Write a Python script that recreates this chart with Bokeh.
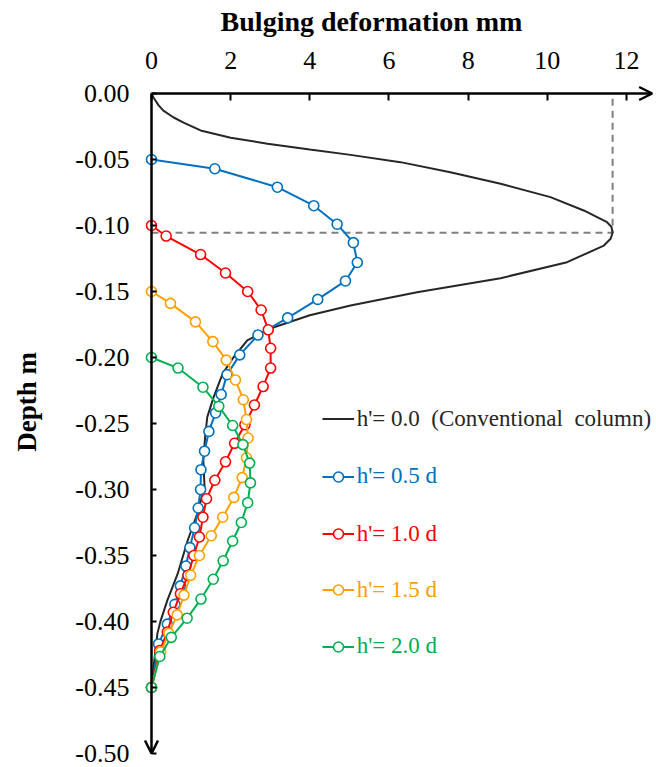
import math
from bokeh.plotting import figure
from bokeh.models import (Range1d, FixedTicker, PrintfTickFormatter, Arrow, OpenHead,
                          Label, Legend, LegendItem)
from bokeh.embed import file_html
from bokeh.resources import INLINE

# ---------------- data ----------------
conv_x = [0.0, 0.05, 0.18, 0.30, 0.55, 0.81, 1.24, 2.0, 2.93, 4.0, 5.03, 6.29, 7.55, 8.82,
          10.08, 10.92, 11.51, 11.62, 11.65, 11.60, 11.43, 10.50, 8.82, 6.71, 5.03, 4.0,
          3.0, 2.42, 2.07, 1.80, 1.57, 1.41, 1.36, 1.31, 1.34, 1.16, 0.91, 0.66, 0.40,
          0.23, 0.15, 0.05, 0.0]
conv_d = [0.0, -0.003, -0.009, -0.013, -0.018, -0.022, -0.028, -0.0335, -0.038, -0.0425,
          -0.0465, -0.052, -0.0596, -0.0684, -0.0785, -0.0886, -0.0975, -0.101, -0.1055,
          -0.110, -0.1152, -0.1278, -0.1399, -0.1505, -0.1606, -0.168, -0.178, -0.187,
          -0.200, -0.212, -0.230, -0.245, -0.258, -0.278, -0.298, -0.318, -0.339, -0.364,
          -0.384, -0.3995, -0.409, -0.435, -0.45]

h05_x = [0.0, 1.60, 3.18, 4.10, 4.69, 5.10, 5.20, 4.90, 4.20, 3.44, 2.69, 2.23, 1.91, 1.76,
         1.62, 1.45, 1.34, 1.25, 1.24, 1.18, 1.09, 0.97, 0.87, 0.73, 0.59, 0.40, 0.18, 0.0]
h05_d = [-0.050, -0.057, -0.071, -0.085, -0.099, -0.113, -0.128, -0.142, -0.156, -0.170,
         -0.183, -0.198, -0.213, -0.228, -0.242, -0.256, -0.271, -0.285, -0.300, -0.314,
         -0.329, -0.344, -0.358, -0.373, -0.387, -0.402, -0.417, -0.45]

h10_x = [0.0, 0.37, 1.24, 1.87, 2.43, 2.77, 2.95, 3.01, 3.01, 2.82, 2.60, 2.36, 2.10, 1.87,
         1.60, 1.39, 1.30, 1.21, 1.07, 0.92, 0.73, 0.55, 0.40, 0.21, 0.0]
h10_d = [-0.100, -0.108, -0.122, -0.136, -0.150, -0.164, -0.179, -0.193, -0.208, -0.222,
         -0.236, -0.251, -0.265, -0.279, -0.293, -0.307, -0.321, -0.336, -0.350, -0.365,
         -0.379, -0.393, -0.408, -0.422, -0.45]

h15_x = [0.0, 0.48, 1.11, 1.55, 1.89, 2.12, 2.32, 2.40, 2.44, 2.40, 2.29, 2.08, 1.80, 1.51,
         1.21, 0.99, 0.82, 0.65, 0.44, 0.23, 0.0]
h15_d = [-0.150, -0.159, -0.173, -0.188, -0.202, -0.217, -0.232, -0.247, -0.261, -0.276,
         -0.291, -0.306, -0.321, -0.335, -0.350, -0.365, -0.380, -0.395, -0.409, -0.423, -0.45]

h20_x = [0.0, 0.67, 1.30, 1.70, 2.05, 2.31, 2.48, 2.50, 2.43, 2.27, 2.05, 1.81, 1.56, 1.25,
         0.90, 0.50, 0.21, 0.0]
h20_d = [-0.200, -0.208, -0.2225, -0.237, -0.2515, -0.266, -0.280, -0.295, -0.310, -0.325,
         -0.339, -0.354, -0.368, -0.383, -0.3975, -0.412, -0.4265, -0.45]

x_ticks = [0, 2, 4, 6, 8, 10, 12]
y_ticks = [0.0, -0.05, -0.10, -0.15, -0.20, -0.25, -0.30, -0.35, -0.40, -0.45, -0.50]

labels = ["h'= 0.0  (Conventional  column)", "h'= 0.5 d", "h'= 1.0 d", "h'= 1.5 d", "h'= 2.0 d"]
colors = ["#262626", "#0070C0", "#FF0000", "#FFA000", "#00B050"]

X_AXIS_END = 12.65
Y_AXIS_END = -0.50

SERIF = "Liberation Serif"

# ---------------- figure ----------------
W, H = 656, 767
X0_PX, Y0_PX = 151.0, 93.0          # where the data origin sits on the canvas
KX, KY = 39.58, 1320.0              # px per data unit
p = figure(width=W, height=H, output_backend="svg", toolbar_location=None, title=None,
           x_range=Range1d(-X0_PX / KX, (W - X0_PX) / KX),
           y_range=Range1d(-(H - Y0_PX) / KY, Y0_PX / KY),
           x_axis_location="above", y_axis_location="left",
           min_border_left=0, min_border_right=0, min_border_top=0, min_border_bottom=0)
p.grid.visible = False
p.outline_line_color = None
p.background_fill_color = "white"
p.border_fill_color = "white"

xa = p.xaxis[0]
xa.fixed_location = 0
xa.ticker = FixedTicker(ticks=x_ticks)
xa.axis_line_color = None
xa.major_tick_in = 7
xa.major_tick_out = 0
xa.major_tick_line_width = 2
xa.minor_tick_line_color = None
xa.major_label_text_font = SERIF
xa.major_label_text_font_size = "26px"
xa.major_label_text_color = "black"
xa.major_label_standoff = 25

ya = p.yaxis[0]
ya.fixed_location = 0
ya.ticker = FixedTicker(ticks=y_ticks)
ya.formatter = PrintfTickFormatter(format="%.2f")
ya.axis_line_color = None
ya.major_tick_in = 5
ya.major_tick_out = 0
ya.major_tick_line_width = 2
ya.minor_tick_line_color = None
ya.major_label_text_font = SERIF
ya.major_label_text_font_size = "26px"
ya.major_label_text_color = "black"
ya.major_label_standoff = 22

# guide lines at the peak of the conventional column
ipk = max(range(len(conv_x)), key=lambda i: conv_x[i])
pk_x, pk_d = conv_x[ipk], conv_d[ipk]
p.line([0, pk_x, pk_x], [pk_d, pk_d, 0], line_color="#7f7f7f", line_width=2, line_dash="7 5")

# axes with arrows
p.add_layout(Arrow(end=OpenHead(size=13, line_width=2.5, line_color="black"),
                   x_start=0, y_start=0, x_end=X_AXIS_END, y_end=0,
                   line_width=2.5, line_color="black"))
p.add_layout(Arrow(end=OpenHead(size=13, line_width=2.5, line_color="black"),
                   x_start=0, y_start=0, x_end=0, y_end=Y_AXIS_END,
                   line_width=2.5, line_color="black"))

series = [(conv_x, conv_d), (h05_x, h05_d), (h10_x, h10_d), (h15_x, h15_d), (h20_x, h20_d)]
rends = []
for i, (xs, ds) in enumerate(series):
    r_line = p.line(xs, ds, line_color=colors[i], line_width=2)
    rs = [r_line]
    if i > 0:
        r_pt = p.scatter(xs, ds, marker="circle", size=10, fill_color="white",
                         line_color=colors[i], line_width=1.6)
        rs.append(r_pt)
    rends.append(rs)

# legends (one per entry, so each label gets its own colour)
leg_img_y = [419.3, 476.7, 534.0, 590.0, 646.7]
GH = 25
for i in range(5):
    vy = (H - leg_img_y[i]) - GH / 2.0
    vx = 321.7
    leg = Legend(items=[LegendItem(label=labels[i], renderers=rends[i])],
                 location=(vx, vy), padding=0, margin=0, spacing=0,
                 glyph_width=32, glyph_height=GH, label_height=GH, label_standoff=3,
                 label_text_font=SERIF, label_text_font_size="23px",
                 label_text_color=colors[i], border_line_color=None,
                 background_fill_alpha=0)
    p.add_layout(leg, "center")

# axis titles
p.add_layout(Label(x=371, y=H - 21, x_units="screen", y_units="screen",
                   text="Bulging deformation mm", text_font=SERIF, text_font_style="bold",
                   text_font_size="28px", text_align="center", text_baseline="alphabetic",
                   text_color="black"))
p.add_layout(Label(x=26.7, y=H - 398, x_units="screen", y_units="screen",
                   text="Depth  m", text_font=SERIF, text_font_style="bold",
                   text_font_size="27px", text_align="center", text_baseline="middle",
                   angle=math.pi / 2, text_color="black"))

open("out.html", "w").write(file_html(p, INLINE))
